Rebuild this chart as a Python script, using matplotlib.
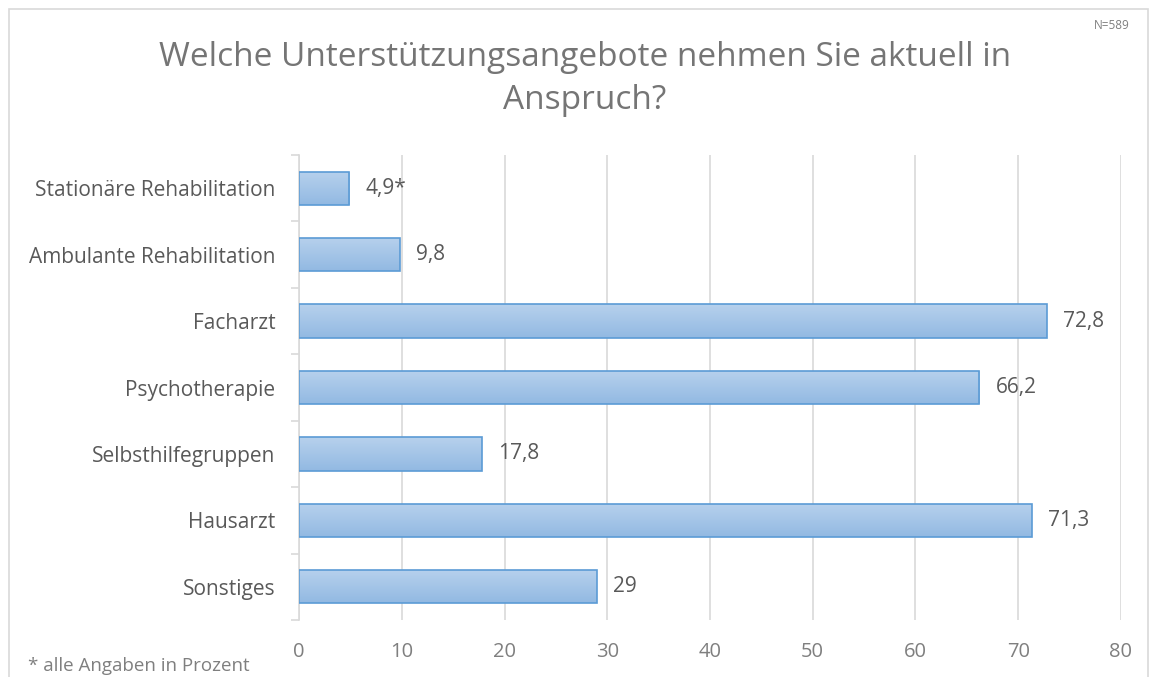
import matplotlib
matplotlib.use("Agg")
import matplotlib.pyplot as plt
import numpy as np
from matplotlib.colors import LinearSegmentedColormap
from matplotlib.patches import Rectangle

# data
categories = ["Stationäre Rehabilitation", "Ambulante Rehabilitation", "Facharzt",
              "Psychotherapie", "Selbsthilfegruppen", "Hausarzt", "Sonstiges"]
values = [4.9, 9.8, 72.8, 66.2, 17.8, 71.3, 29]
value_labels = ["4,9*", "9,8", "72,8", "66,2", "17,8", "71,3", "29"]
xticks = [0, 10, 20, 30, 40, 50, 60, 70, 80]

plt.rcParams['font.family'] = ['Open Sans', 'DejaVu Sans']

fig = plt.figure(figsize=(11.51, 6.77), dpi=100)
ax = fig.add_axes([0.2598, 0.0842, 0.7141, 0.6868])

# light frame round the chart
fig.patches.append(Rectangle((9 / 1151, -0.01), 1139 / 1151, 1 - 9 / 677 + 0.01,
                             transform=fig.transFigure, fill=False,
                             edgecolor="#D9D9D9", lw=1.2))

y = np.arange(len(categories))
bars = ax.barh(y, values, height=0.5, color="none", edgecolor="#5B9BD5",
               linewidth=1.2, zorder=3)

# vertical gradient fill like the original bars
cmap = LinearSegmentedColormap.from_list("grad", ["#B7D1ED", "#92B9E2"])
grad = np.linspace(0, 1, 100).reshape(-1, 1)
for b in bars:
    x0, y0 = b.get_x(), b.get_y()
    w, h = b.get_width(), b.get_height()
    im = ax.imshow(grad, cmap=cmap, aspect="auto", extent=(x0, x0 + w, y0, y0 + h),
                   origin="lower", zorder=2)
    im.set_clip_path(b)

for yi, v, lab in zip(y, values, value_labels):
    ax.text(v + 1.6, yi, lab, va="center", ha="left", fontsize=15, color="#595959")

ax.set_xlim(0, 80)
ax.set_ylim(len(categories) - 0.5, -0.5)
ax.set_xticks(xticks)
ax.set_xticklabels([str(t) for t in xticks])
ax.set_yticks(y)
ax.set_yticklabels(categories)
ax.set_yticks(np.arange(-0.5, len(categories)), minor=True)
ax.tick_params(axis="y", which="major", length=0, pad=17, labelsize=15, labelcolor="#595959")
ax.tick_params(axis="y", which="minor", length=6, color="#D9D9D9", width=1.2)
ax.tick_params(axis="x", length=0, pad=16, labelsize=14.5, labelcolor="#7F7F7F")
ax.grid(axis="x", color="#D9D9D9", lw=1.2, zorder=0)
for s in ["top", "right", "bottom"]:
    ax.spines[s].set_visible(False)
ax.spines["left"].set_color("#D9D9D9")
ax.spines["left"].set_linewidth(1.2)

fig.text(0.508, 0.883, "Welche Unterstützungsangebote nehmen Sie aktuell in\nAnspruch?",
         ha="center", va="center", fontsize=24, color="#757575", linespacing=1.4)
fig.text(0.966, 0.962, "N=589", ha="center", va="center", fontsize=8.5, color="#7F7F7F")
fig.text(0.024, 0.003, "* alle Angaben in Prozent", ha="left", va="bottom",
         fontsize=13.5, color="#7F7F7F")

fig.savefig("out.png", dpi=100)
